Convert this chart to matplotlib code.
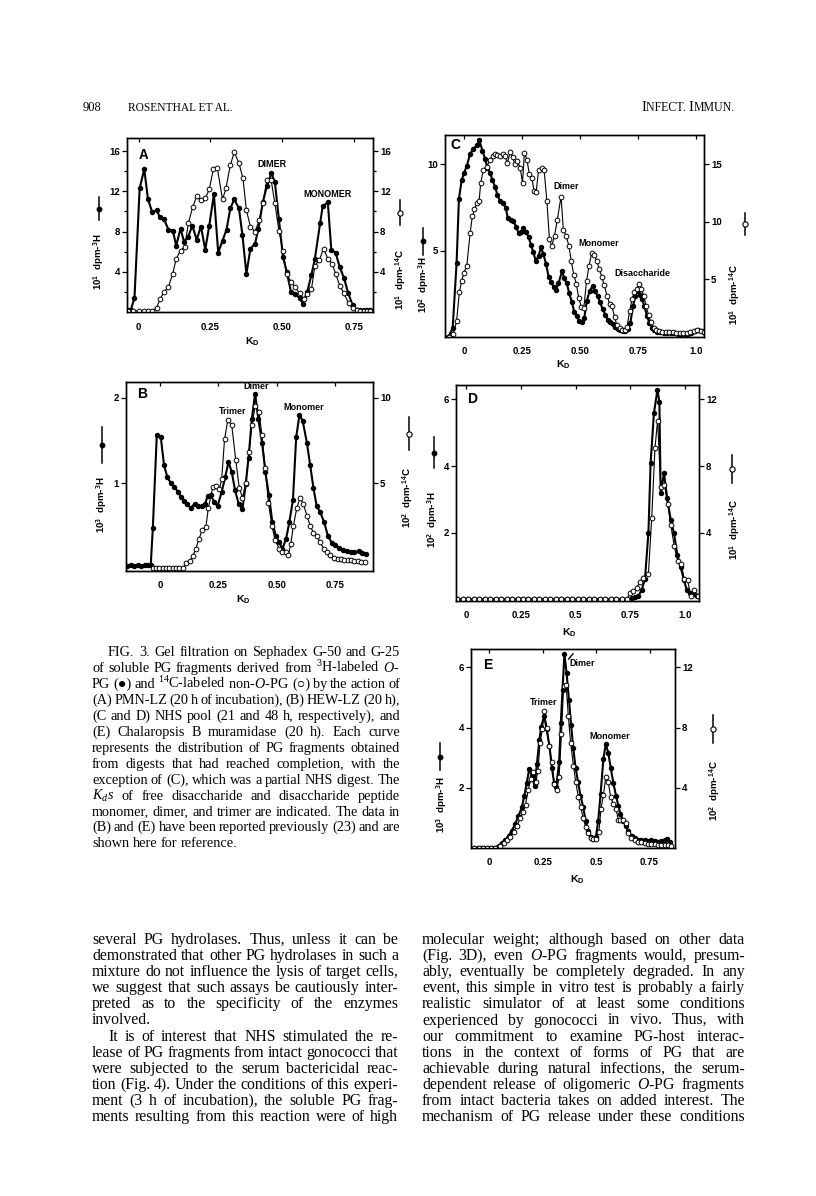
import numpy as np
import matplotlib
matplotlib.use('Agg')
from matplotlib import pyplot as plt
from matplotlib.lines import Line2D

plt.rcParams['font.family'] = 'Liberation Sans'
plt.rcParams['font.weight'] = 'bold'
plt.rcParams['mathtext.fontset'] = 'custom'
plt.rcParams['mathtext.rm'] = 'Liberation Serif:normal'
plt.rcParams['mathtext.it'] = 'Liberation Serif:italic:normal'
plt.rcParams['mathtext.default'] = 'regular'
plt.rcParams['text.hinting'] = 'native'

# ---- panel A : PMN-LZ ----
ka_h = [-0.036, -0.027, -0.014, 0.004, 0.020, 0.033, 0.048, 0.063, 0.075, 0.089,
        0.104, 0.119, 0.131, 0.146, 0.158, 0.173, 0.187, 0.202, 0.217, 0.232,
        0.246, 0.262, 0.277, 0.292, 0.306, 0.319, 0.333, 0.349, 0.361, 0.375,
        0.389, 0.405, 0.417, 0.432, 0.446, 0.462, 0.474, 0.488, 0.502, 0.515,
        0.530, 0.545, 0.560, 0.571, 0.586, 0.601, 0.613, 0.631, 0.640, 0.658,
        0.670, 0.685, 0.699, 0.714, 0.729, 0.744, 0.758, 0.770, 0.782, 0.794,
        0.806]
ya_h = [0.2, 0.2, 1.4, 12.3, 14.2, 11.2, 9.9, 10.1, 9.4, 9.2,
        8.2, 8.1, 6.6, 8.3, 7.0, 7.5, 8.6, 7.2, 8.5, 6.2,
        8.6, 11.7, 5.9, 7.1, 8.2, 10.3, 11.2, 10.3, 7.7, 3.8,
        6.3, 6.8, 8.3, 10.9, 12.5, 13.8, 12.9, 9.2, 5.5, 4.0,
        2.0, 1.75, 1.4, 0.8, 1.95, 3.7, 5.3, 8.8, 10.5, 10.9,
        6.2, 5.9, 4.5, 3.4, 1.85, 0.7, 0.2, 0.2, 0.2, 0.2,
        0.2]
ka_c = [-0.038, -0.018, 0.000, 0.018, 0.033, 0.048, 0.063, 0.075, 0.089, 0.104,
        0.119, 0.131, 0.146, 0.161, 0.173, 0.188, 0.202, 0.217, 0.232, 0.246,
        0.260, 0.274, 0.292, 0.304, 0.319, 0.333, 0.349, 0.363, 0.375, 0.389,
        0.405, 0.419, 0.432, 0.446, 0.461, 0.474, 0.488, 0.502, 0.515, 0.530,
        0.545, 0.560, 0.575, 0.587, 0.601, 0.613, 0.629, 0.643, 0.658, 0.673,
        0.685, 0.700, 0.714, 0.730, 0.744, 0.758, 0.770, 0.782, 0.794, 0.806]
ya_c = [0.1, 0.1, 0.1, 0.1, 0.1, 0.1, 0.43, 1.3, 2.0, 2.5,
        3.8, 5.3, 6.1, 6.5, 8.8, 10.4, 11.5, 11.1, 11.3, 12.2,
        14.2, 14.3, 11.2, 12.3, 14.6, 15.9, 14.8, 13.3, 10.1, 8.5,
        8.0, 9.1, 10.8, 13.1, 13.1, 10.8, 8.1, 6.1, 3.8, 3.0,
        2.45, 1.85, 1.3, 1.75, 2.25, 4.6, 5.2, 6.3, 5.3, 4.8,
        3.8, 2.6, 1.85, 0.86, 0.36, 0.15, 0.1, 0.1, 0.1, 0.1]

# ---- panel B : HEW-LZ ----
kb_h = [-0.140, -0.125, -0.110, -0.095, -0.080, -0.065, -0.050, -0.040, -0.031, -0.014,
        0.003, 0.017, 0.031, 0.046, 0.061, 0.076, 0.090, 0.104, 0.117, 0.131,
        0.149, 0.164, 0.179, 0.193, 0.204, 0.217, 0.231, 0.246, 0.264, 0.279,
        0.293, 0.307, 0.321, 0.337, 0.353, 0.367, 0.379, 0.393, 0.407, 0.421,
        0.437, 0.451, 0.466, 0.481, 0.496, 0.510, 0.524, 0.540, 0.554, 0.569,
        0.583, 0.597, 0.611, 0.629, 0.643, 0.657, 0.671, 0.686, 0.703, 0.719,
        0.736, 0.750, 0.767, 0.783, 0.800, 0.817, 0.831, 0.850, 0.864, 0.883]
yb_h = [0.03, 0.035, 0.03, 0.04, 0.03, 0.035, 0.04, 0.04, 0.48, 1.57,
        1.54, 1.21, 1.07, 1.0, 0.96, 0.9, 0.84, 0.79, 0.75, 0.71,
        0.76, 0.73, 0.73, 0.76, 0.85, 0.86, 0.78, 0.73, 0.9, 1.07,
        1.25, 1.13, 0.92, 0.75, 0.7, 0.99, 1.3, 1.75, 2.05, 1.75,
        1.47, 1.13, 0.86, 0.54, 0.38, 0.31, 0.23, 0.35, 0.55, 0.8,
        1.54, 1.8, 1.73, 1.47, 1.21, 0.94, 0.73, 0.66, 0.54, 0.38,
        0.3, 0.27, 0.24, 0.22, 0.2, 0.19, 0.19, 0.2, 0.18, 0.17]
kb_c = [-0.031, -0.017, -0.003, 0.011, 0.026, 0.040, 0.054, 0.069, 0.083, 0.097,
        0.111, 0.126, 0.140, 0.153, 0.167, 0.181, 0.196, 0.207, 0.226, 0.240,
        0.254, 0.264, 0.276, 0.290, 0.307, 0.324, 0.339, 0.353, 0.367, 0.381,
        0.393, 0.407, 0.424, 0.436, 0.450, 0.464, 0.479, 0.493, 0.510, 0.524,
        0.539, 0.550, 0.560, 0.571, 0.586, 0.600, 0.614, 0.629, 0.643, 0.657,
        0.671, 0.686, 0.700, 0.714, 0.729, 0.746, 0.760, 0.774, 0.789, 0.803,
        0.817, 0.831, 0.846, 0.860, 0.879]
yb_c = [0, 0, 0, 0, 0, 0, 0, 0, 0, 0,
        0.29, 0.42, 0.71, 1.16, 1.74, 2.28, 2.41, 3.57, 4.79, 4.86,
        4.63, 5.25, 7.57, 8.69, 8.4, 6.37, 4.73, 4.15, 5.0, 6.85,
        8.4, 9.5, 9.2, 7.8, 5.9, 3.86, 2.5, 1.64, 1.16, 0.97,
        0.97, 0.81, 1.45, 2.5, 3.57, 4.15, 3.76, 3.1, 2.5, 2.08,
        1.89, 1.54, 1.16, 0.97, 0.77, 0.62, 0.58, 0.58, 0.52, 0.48,
        0.48, 0.42, 0.42, 0.35, 0.39]

# ---- panel C : NHS pool, 21 h ----
kc_h = [-0.068, -0.049, -0.032, -0.022, -0.010, 0.000, 0.012, 0.026, 0.040, 0.055,
        0.066, 0.079, 0.091, 0.101, 0.112, 0.122, 0.134, 0.144, 0.155, 0.167,
        0.180, 0.188, 0.201, 0.213, 0.224, 0.235, 0.246, 0.256, 0.266, 0.278,
        0.288, 0.299, 0.309, 0.321, 0.332, 0.342, 0.354, 0.364, 0.376, 0.386,
        0.397, 0.407, 0.422, 0.432, 0.443, 0.453, 0.465, 0.475, 0.486, 0.496,
        0.508, 0.518, 0.529, 0.541, 0.554, 0.565, 0.576, 0.587, 0.597, 0.609,
        0.619, 0.630, 0.640, 0.652, 0.662, 0.673, 0.683, 0.695, 0.706, 0.717,
        0.728, 0.738, 0.748, 0.757, 0.767, 0.777, 0.788, 0.799, 0.810, 0.820,
        0.832, 0.845, 0.860, 0.875, 0.890, 0.905, 0.920, 0.935, 0.950, 0.965,
        0.980, 0.995, 1.010, 1.025, 1.040]
yc_h = [0.0, 0.5, 4.3, 8.0, 9.1, 9.5, 9.9, 10.6, 10.9, 11.1,
        11.4, 10.8, 10.3, 9.8, 9.5, 9.1, 8.7, 8.2, 7.9, 7.75,
        7.5, 6.9, 6.8, 6.7, 6.4, 6.0, 6.1, 6.3, 6.1, 5.8,
        5.35, 4.9, 4.4, 4.7, 5.2, 4.8, 4.2, 3.5, 3.2, 2.9,
        2.75, 3.1, 3.8, 3.4, 3.1, 2.55, 2.0, 1.45, 1.2, 0.92,
        0.87, 1.1, 2.1, 2.65, 2.95, 2.65, 2.35, 2.0, 1.6, 1.3,
        1.0, 0.87, 0.73, 0.6, 0.48, 0.4, 0.35, 0.35, 0.44, 0.83,
        1.8, 2.35, 2.65, 2.45, 2.2, 1.8, 1.2, 0.83, 0.54, 0.38,
        0.3, 0.28, 0.25, 0.25, 0.22, 0.22, 0.2, 0.2, 0.2, 0.2,
        0.25, 0.35, 0.4, 0.35, 0.25]
kc_c = [-0.063, -0.046, -0.032, -0.020, -0.010, 0.000, 0.012, 0.026, 0.036, 0.045,
        0.055, 0.065, 0.072, 0.083, 0.098, 0.112, 0.124, 0.134, 0.144, 0.155,
        0.167, 0.177, 0.187, 0.199, 0.209, 0.220, 0.230, 0.242, 0.252, 0.260,
        0.271, 0.281, 0.292, 0.302, 0.311, 0.321, 0.334, 0.345, 0.357, 0.368,
        0.378, 0.390, 0.402, 0.418, 0.428, 0.440, 0.452, 0.462, 0.473, 0.484,
        0.494, 0.506, 0.516, 0.528, 0.539, 0.550, 0.561, 0.572, 0.583, 0.594,
        0.604, 0.616, 0.627, 0.637, 0.649, 0.659, 0.671, 0.681, 0.692, 0.702,
        0.714, 0.724, 0.734, 0.745, 0.754, 0.764, 0.774, 0.784, 0.795, 0.805,
        0.817, 0.827, 0.840, 0.855, 0.870, 0.885, 0.900, 0.915, 0.930, 0.945,
        0.960, 0.975, 0.990, 1.005, 1.020, 1.035]
yc_c = [0.0, 0.3, 1.4, 3.9, 4.9, 5.6, 6.2, 9.0, 10.5, 11.1,
        11.6, 11.8, 13.4, 14.5, 14.8, 15.4, 15.7, 15.9, 15.8, 15.7,
        15.9, 15.7, 15.1, 16.1, 15.6, 15.0, 15.3, 14.7, 13.4, 16.0,
        15.4, 14.2, 13.8, 12.7, 12.6, 14.5, 14.7, 14.5, 11.8, 8.5,
        7.9, 8.8, 10.2, 12.2, 9.3, 8.8, 7.9, 6.6, 5.4, 4.6,
        3.4, 2.6, 2.5, 4.9, 6.2, 7.3, 7.1, 6.6, 5.9, 5.2,
        4.5, 3.6, 2.9, 2.7, 1.7, 1.0, 0.8, 0.57, 0.63, 0.86,
        2.3, 3.3, 3.9, 4.2, 4.6, 4.2, 3.6, 2.7, 1.9, 1.3,
        0.8, 0.57, 0.5, 0.45, 0.45, 0.4, 0.4, 0.35, 0.35, 0.35,
        0.35, 0.4, 0.55, 0.6, 0.55, 0.4]

# ---- panel D : NHS pool, 48 h ----
kd_base = [-0.040, -0.015, 0.010, 0.035, 0.060, 0.085, 0.110, 0.135, 0.160, 0.185,
           0.210, 0.235, 0.260, 0.285, 0.310, 0.335, 0.360, 0.385, 0.410, 0.435,
           0.460, 0.485, 0.510, 0.535, 0.560, 0.585, 0.610, 0.635, 0.660, 0.685,
           0.710, 0.735]
yd_base = [0, 0, 0, 0, 0, 0, 0, 0, 0, 0,
           0, 0, 0, 0, 0, 0, 0, 0, 0, 0,
           0, 0, 0, 0, 0, 0, 0, 0, 0, 0,
           0, 0]
kd_h = [0.757, 0.772, 0.787, 0.802, 0.817, 0.833, 0.843, 0.858, 0.874, 0.883,
        0.889, 0.904, 0.919, 0.935, 0.950, 0.965, 0.980, 0.995, 1.008, 1.023,
        1.038, 1.056]
yd_h = [0.03, 0.06, 0.1, 0.28, 0.6, 2.0, 4.1, 5.58, 6.28, 5.93,
        3.18, 3.78, 3.03, 2.38, 1.98, 1.33, 0.98, 0.58, 0.28, 0.18,
        0.16, 0.1]
kd_c = [0.749, 0.764, 0.779, 0.795, 0.810, 0.833, 0.848, 0.863, 0.875, 0.889,
        0.906, 0.921, 0.935, 0.951, 0.967, 0.982, 0.997, 1.012, 1.026, 1.041,
        1.061]
yd_c = [0.36, 0.48, 0.71, 1.05, 1.31, 1.55, 4.88, 9.09, 10.73, 6.77,
        6.87, 5.71, 4.48, 3.19, 2.3, 2.14, 1.21, 1.15, 0.22, 0.56,
        0.22]

# ---- panel E : Chalaropsis B muramidase ----
ke_h = [-0.069, -0.054, -0.038, -0.023, -0.007, 0.009, 0.024, 0.044, 0.060, 0.075,
        0.091, 0.106, 0.122, 0.137, 0.153, 0.164, 0.176, 0.187, 0.200, 0.212,
        0.223, 0.235, 0.243, 0.257, 0.269, 0.282, 0.293, 0.304, 0.313, 0.327,
        0.335, 0.343, 0.352, 0.362, 0.373, 0.383, 0.393, 0.404, 0.416, 0.427,
        0.440, 0.451, 0.463, 0.474, 0.487, 0.499, 0.510, 0.521, 0.534, 0.545,
        0.557, 0.568, 0.581, 0.593, 0.604, 0.614, 0.627, 0.638, 0.650, 0.666,
        0.681, 0.697, 0.712, 0.728, 0.743, 0.758, 0.774, 0.790, 0.805, 0.821,
        0.831, 0.844]
ye_h = [0, 0, 0, 0, 0, 0, 0, 0.08, 0.17, 0.27,
        0.41, 0.58, 0.8, 1.07, 1.35, 1.73, 2.17, 2.62, 2.4, 2.07,
        2.78, 3.6, 4.03, 4.38, 3.94, 3.39, 2.67, 2.15, 2.01, 2.84,
        4.16, 5.26, 6.45, 5.81, 4.93, 4.1, 3.33, 2.67, 2.18, 1.74,
        1.35, 0.91, 0.58, 0.36, 0.3, 0.36, 0.91, 1.79, 2.95, 3.44,
        3.17, 2.67, 2.15, 1.74, 1.4, 1.13, 0.91, 0.74, 0.56, 0.41,
        0.33, 0.28, 0.27, 0.25, 0.24, 0.25, 0.23, 0.21, 0.23, 0.25,
        0.3, 0.21]
ke_c = [-0.069, -0.049, -0.029, -0.010, 0.009, 0.029, 0.052, 0.068, 0.083, 0.099,
        0.114, 0.130, 0.145, 0.158, 0.170, 0.182, 0.195, 0.207, 0.218, 0.228,
        0.238, 0.249, 0.257, 0.269, 0.280, 0.293, 0.304, 0.316, 0.327, 0.338,
        0.348, 0.360, 0.370, 0.381, 0.394, 0.405, 0.417, 0.428, 0.440, 0.451,
        0.463, 0.474, 0.487, 0.499, 0.513, 0.523, 0.534, 0.545, 0.557, 0.568,
        0.580, 0.593, 0.604, 0.614, 0.627, 0.638, 0.650, 0.665, 0.681, 0.696,
        0.712, 0.727, 0.743, 0.758, 0.774, 0.790, 0.805, 0.821, 0.836, 0.852]
ye_c = [0, 0, 0, 0, 0, 0, 0.15, 0.3, 0.53, 0.75,
        1.08, 1.47, 1.96, 2.4, 2.88, 3.82, 4.6, 5.03, 4.37, 5.14,
        7.0, 7.89, 9.1, 8.0, 6.79, 5.69, 4.26, 3.82, 4.7, 7.56,
        10.75, 10.86, 8.77, 7.0, 5.47, 4.37, 3.38, 2.73, 1.96, 1.41,
        0.97, 0.68, 0.59, 0.57, 1.08, 2.62, 3.49, 4.7, 4.37, 3.38,
        2.95, 2.62, 1.85, 1.85, 1.85, 1.63, 0.97, 0.68, 0.53, 0.42,
        0.37, 0.31, 0.26, 0.24, 0.24, 0.2, 0.2, 0.2, 0.2, 0.15]

caption = [
    "FIG. 3. Gel filtration on Sephadex G-50 and G-25",
    r"of soluble PG fragments derived from $^{3}$H-labeled $\mathit{O}$-",
    r"PG (●) and $^{14}$C-labeled non-$\mathit{O}$-PG (○) by the action of",
    "(A) PMN-LZ (20 h of incubation), (B) HEW-LZ (20 h),",
    "(C and D) NHS pool (21 and 48 h, respectively), and",
    "(E) Chalaropsis B muramidase (20 h). Each curve",
    "represents the distribution of PG fragments obtained",
    "from digests that had reached completion, with the",
    "exception of (C), which was a partial NHS digest. The",
    r"$\mathit{K_{d}s}$ of free disaccharide and disaccharide peptide",
    "monomer, dimer, and trimer are indicated. The data in",
    "(B) and (E) have been reported previously (23) and are",
    "shown here for reference.",
]
body_left = [
    "several PG hydrolases. Thus, unless it can be",
    "demonstrated that other PG hydrolases in such a",
    "mixture do not influence the lysis of target cells,",
    "we suggest that such assays be cautiously inter-",
    "preted as to the specificity of the enzymes",
    "involved.",
    "It is of interest that NHS stimulated the re-",
    "lease of PG fragments from intact gonococci that",
    "were subjected to the serum bactericidal reac-",
    "tion (Fig. 4). Under the conditions of this experi-",
    "ment (3 h of incubation), the soluble PG frag-",
    "ments resulting from this reaction were of high",
]
body_right = [
    "molecular weight; although based on other data",
    r"(Fig. 3D), even $\mathit{O}$-PG fragments would, presum-",
    "ably, eventually be completely degraded. In any",
    "event, this simple in vitro test is probably a fairly",
    "realistic simulator of at least some conditions",
    "experienced by gonococci in vivo. Thus, with",
    "our commitment to examine PG-host interac-",
    "tions in the context of forms of PG that are",
    "achievable during natural infections, the serum-",
    r"dependent release of oligomeric $\mathit{O}$-PG fragments",
    "from intact bacteria takes on added interest. The",
    "mechanism of PG release under these conditions",
]

W, H = 816, 1196
fig = plt.figure(figsize=(W / 100, H / 100), dpi=100, facecolor='white')
renderer = fig.canvas.get_renderer()


def rect(x0, y0, x1, y1):
    return [x0 / W, 1 - y1 / H, (x1 - x0) / W, (y1 - y0) / H]


def panel(box, xlim, ylim, ratio, xticks, xlabels, yticks, yticks2,
          kh, yh, kc, yc, minor=None, xpad=7):
    ax = fig.add_axes(rect(*box))
    ax2 = ax.twinx()
    ax.set_xlim(xlim)
    ax.set_ylim(ylim)
    ax2.set_ylim(ylim[0] * ratio, ylim[1] * ratio)
    ax.plot(kh, yh, color='k', lw=1.5, marker='o', ms=2.9, zorder=3)
    ax2.plot(kc, yc, color='k', lw=0.8, marker='o', ms=3.4,
             mfc='white', mec='k', mew=0.7)
    ax.set_xticks(xticks)
    ax.set_xticklabels(xlabels)
    ax.set_yticks(yticks)
    ax.set_yticklabels([str(t) for t in yticks])
    ax2.set_yticks(yticks2)
    ax2.set_yticklabels([str(t) for t in yticks2])
    if minor:
        ax.set_yticks(minor, minor=True)
        ax2.set_yticks([m * ratio for m in minor], minor=True)
    for a in (ax, ax2):
        for s in a.spines.values():
            s.set_linewidth(1.0)
        a.tick_params(axis='y', which='both', direction='out', length=3.5,
                      width=0.9, labelsize=7, pad=1.5)
        a.tick_params(axis='y', which='minor', length=2)
    ax.tick_params(axis='x', direction='in', bottom=False, top=True,
                   length=3, width=0.9, labelsize=7, pad=xpad)
    return ax


def mark(x, y0, y1, filled):
    xf = x / W
    fig.add_artist(Line2D([xf, xf], [1 - y0 / H, 1 - y1 / H], color='k',
                          lw=1.1, transform=fig.transFigure))
    fig.add_artist(Line2D([xf], [1 - (y0 + y1) / 2 / H], marker='o',
                          ms=3.4 if filled else 3.8,
                          mfc='k' if filled else 'white', mec='k', mew=0.8,
                          transform=fig.transFigure))


def vlabel(x, y, s):
    fig.text(x / W, 1 - y / H, s, rotation=90, ha='center', va='center',
             fontsize=7, weight='bold')


def kd(x, y):
    fig.text(x / W, 1 - y / H, r'K$_{D}$', ha='center', va='center',
             fontsize=7.5, weight='bold')


def note(ax, x, y, s, size=6.5):
    ax.text(x, y, s, ha='center', va='center', fontsize=size,
            weight='bold', zorder=5)


# Panel A
ax = panel((127, 138, 373, 312), (-0.04, 0.815), (0, 17.3), 1.0,
           [0, 0.25, 0.5, 0.75], ['0', '0.25', '0.50', '0.75'],
           [4, 8, 12, 16], [4, 8, 12, 16], ka_h, ya_h, ka_c, ya_c,
           minor=[2, 6, 10, 14], xpad=8)
note(ax, 0.018, 15.6, 'A', 10)
note(ax, 0.464, 14.7, 'DIMER')
note(ax, 0.658, 11.7, 'MONOMER')
mark(99, 197, 220, True)
vlabel(99, 262, r'10$^{1}$  dpm-$^{3}$H')
mark(400, 200, 225, False)
vlabel(401, 280, r'10$^{1}$  dpm-$^{14}$C')
kd(252, 342)

# Panel C
ax = panel((445, 135, 704, 337), (-0.082, 1.034), (0, 11.7), 1.5,
           [0, 0.25, 0.5, 0.75, 1.0], ['0', '0.25', '0.50', '0.75', '1.0'],
           [5, 10], [5, 10, 15], kc_h, yc_h, kc_c, yc_c)
note(ax, -0.036, 11.1, 'C', 10)
note(ax, 0.439, 8.7, 'Dimer')
note(ax, 0.58, 5.44, 'Monomer')
note(ax, 0.767, 3.67, 'Disaccharide')
mark(423, 228, 255, True)
vlabel(424, 285, r'10$^{2}$  dpm-$^{3}$H')
mark(745, 213, 235, False)
vlabel(735, 295, r'10$^{1}$  dpm-$^{14}$C')
kd(563, 365)

# Panel B
ax = panel((126, 382, 373, 571), (-0.146, 0.912), (-0.03, 2.186), 5.0,
           [0, 0.25, 0.5, 0.75], ['0', '0.25', '0.50', '0.75'],
           [1, 2], [5, 10], kb_h, yb_h, kb_c, yb_c)
note(ax, -0.079, 2.04, 'B', 10)
note(ax, 0.41, 2.13, 'Dimer')
note(ax, 0.311, 1.84, 'Trimer')
note(ax, 0.614, 1.89, 'Monomer')
mark(102, 427, 463, True)
vlabel(102, 505, r'10$^{3}$  dpm-$^{3}$H')
mark(409, 417, 450, False)
vlabel(408, 498, r'10$^{2}$  dpm-$^{14}$C')
kd(243, 600)

# Panel D
ax = panel((456, 385, 699, 601), (-0.046, 1.064), (-0.05, 6.43), 2.0,
           [0, 0.25, 0.5, 0.75, 1.0], ['0', '0.25', '0.5', '0.75', '1.0'],
           [2, 4, 6], [4, 8, 12], kd_base + kd_h, yd_base + yd_h,
           kd_base + kd_c, yd_base + yd_c)
note(ax, 0.026, 6.0, 'D', 10)
mark(434, 437, 468, True)
vlabel(433, 520, r'10$^{2}$  dpm-$^{3}$H')
mark(732, 455, 483, False)
vlabel(735, 530, r'10$^{1}$  dpm-$^{14}$C')
kd(569, 633)

# Panel E
ax = panel((471, 649, 675, 848), (-0.085, 0.869), (0, 6.61), 2.0,
           [0, 0.25, 0.5, 0.75], ['0', '0.25', '0.5', '0.75'],
           [2, 4, 6], [4, 8, 12], ke_h, ye_h, ke_c, ye_c)
note(ax, -0.005, 6.05, 'E', 10)
note(ax, 0.253, 4.82, 'Trimer')
note(ax, 0.433, 6.12, 'Dimer')
note(ax, 0.565, 3.7, 'Monomer')
ax.plot([0.372, 0.392], [6.28, 6.45], color='k', lw=1.0)
mark(440, 743, 770, True)
vlabel(442, 805, r'10$^{3}$  dpm-$^{3}$H')
mark(713, 715, 743, False)
vlabel(715, 791, r'10$^{2}$  dpm-$^{14}$C')
kd(577, 880)


# ---- running text (justified lines) ----
def serif_word(x, y, w, size):
    fam = ['Liberation Serif', 'DejaVu Sans'] if ('●' in w or '○' in w) \
        else 'Liberation Serif'
    return fig.text(x, 1 - y / H, w, fontsize=size, family=fam,
                    weight='normal', va='baseline')


def text_line(line, x0, x1, y, size, justify=True):
    words = line.split()
    objs = [serif_word(0, y, w, size) for w in words]
    widths = [o.get_window_extent(renderer).width for o in objs]
    if justify and len(words) > 1:
        gap = (x1 - x0 - sum(widths)) / (len(words) - 1)
    else:
        gap = size * 100 / 72 * 0.25
    x = x0
    for o, w in zip(objs, widths):
        o.set_x(x / W)
        x += w + gap


for i, line in enumerate(caption):
    x0 = 108 if i == 0 else 92
    text_line(line, x0, 400, 656 + i * 15.95, 10.3,
              justify=i < len(caption) - 1)

for i, line in enumerate(body_left):
    x0 = 108 if i == 6 else 92
    text_line(line, x0, 398, 944 + i * 16.1, 11.3, justify=i != 5)

for i, line in enumerate(body_right):
    text_line(line, 422, 745, 944 + i * 16.1, 11.3)

# running head
serif_word(83 / W, 111, '908', 9)
serif_word(128 / W, 111, 'ROSENTHAL ET AL.', 8.2)
pieces = [('I', 10.5), ('NFECT. ', 8.6), ('I', 10.5), ('MMUN.', 8.6)]
objs = [serif_word(0, 111, p, s) for p, s in pieces]
widths = [o.get_window_extent(renderer).width for o in objs]
x = 735 - sum(widths)
for o, w in zip(objs, widths):
    o.set_x(x / W)
    x += w

fig.savefig('out.png', dpi=100, facecolor='white')
